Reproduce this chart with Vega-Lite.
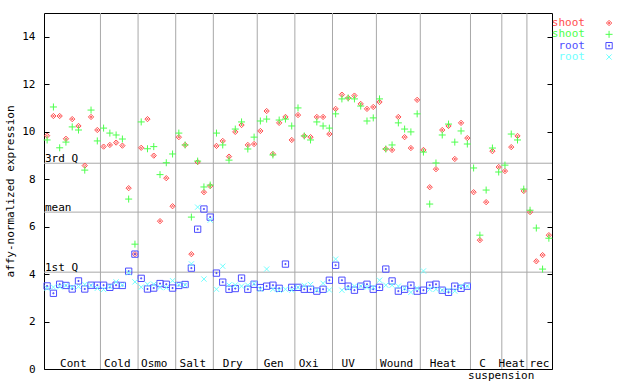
{
  "$schema": "https://vega.github.io/schema/vega-lite/v6.json",
  "width": 508,
  "height": 356,
  "autosize": {"type": "none"},
  "padding": {"left": 44, "top": 13, "right": 88, "bottom": 15},
  "background": "white",
  "config": {
    "view": {"stroke": "black", "strokeWidth": 1},
    "font": "DejaVu Sans Mono",
    "text": {"font": "DejaVu Sans Mono", "fontSize": 11, "color": "black"}
  },
  "datasets": {
    "bounds": [{"b": 8.5}, {"b": 14.5}, {"b": 20.5}, {"b": 26.5}, {"b": 33.5}, {"b": 39.5}, {"b": 45.5}, {"b": 52.5}, {"b": 59.5}, {"b": 67.5}, {"b": 72.5}, {"b": 76.5}],
    "quart": [{"q": "3rd Q", "v": 8.67}, {"q": "mean", "v": 6.61}, {"q": "1st Q", "v": 4.08}],
    "groups": [{"g": "Cont", "c": 4.17}, {"g": "Cold", "c": 11.19}, {"g": "Osmo", "c": 17.08}, {"g": "Salt", "c": 23.22}, {"g": "Dry", "c": 29.59}, {"g": "Gen", "c": 36.13}, {"g": "Oxi", "c": 41.7}, {"g": "UV", "c": 48.0}, {"g": "Wound", "c": 55.73}, {"g": "Heat", "c": 63.14}, {"g": "C", "c": 69.43}, {"g": "Heat", "c": 74.1}, {"g": "rec", "c": 78.5}],
    "sub": [{"g": "suspension", "c": 72.4}],
    "leg": [{"s": "shoot_r", "t": "shoot"}, {"s": "shoot_g", "t": "shoot"}, {"s": "root_b", "t": "root"}, {"s": "root_c", "t": "root"}],
    "pts": [
      {"i":0,"s":"shoot_r","v":9.83},{"i":1,"s":"shoot_r","v":10.66},{"i":2,"s":"shoot_r","v":10.66},{"i":3,"s":"shoot_r","v":9.70},{"i":4,"s":"shoot_r","v":10.53},{"i":5,"s":"shoot_r","v":10.24},{"i":6,"s":"shoot_r","v":8.57},{"i":7,"s":"shoot_r","v":10.62},{"i":8,"s":"shoot_r","v":10.07},
      {"i":9,"s":"shoot_r","v":9.37},{"i":10,"s":"shoot_r","v":9.44},{"i":11,"s":"shoot_r","v":9.54},{"i":12,"s":"shoot_r","v":9.41},{"i":13,"s":"shoot_r","v":7.62},{"i":14,"s":"shoot_r","v":4.84},
      {"i":15,"s":"shoot_r","v":9.32},{"i":16,"s":"shoot_r","v":10.53},{"i":17,"s":"shoot_r","v":8.99},{"i":18,"s":"shoot_r","v":6.23},{"i":19,"s":"shoot_r","v":8.04},{"i":20,"s":"shoot_r","v":6.86},
      {"i":21,"s":"shoot_r","v":9.77},{"i":22,"s":"shoot_r","v":9.44},{"i":23,"s":"shoot_r","v":4.84},{"i":24,"s":"shoot_r","v":8.72},{"i":25,"s":"shoot_r","v":7.45},{"i":26,"s":"shoot_r","v":7.71},
      {"i":27,"s":"shoot_r","v":9.40},{"i":28,"s":"shoot_r","v":9.61},{"i":29,"s":"shoot_r","v":8.95},{"i":30,"s":"shoot_r","v":9.99},{"i":31,"s":"shoot_r","v":10.28},{"i":32,"s":"shoot_r","v":9.44},{"i":33,"s":"shoot_r","v":9.48},
      {"i":34,"s":"shoot_r","v":10.03},{"i":35,"s":"shoot_r","v":10.87},{"i":36,"s":"shoot_r","v":9.06},{"i":37,"s":"shoot_r","v":10.37},{"i":38,"s":"shoot_r","v":10.62},{"i":39,"s":"shoot_r","v":9.65},
      {"i":40,"s":"shoot_r","v":10.70},{"i":41,"s":"shoot_r","v":9.82},{"i":42,"s":"shoot_r","v":9.77},{"i":43,"s":"shoot_r","v":10.62},{"i":44,"s":"shoot_r","v":10.62},{"i":45,"s":"shoot_r","v":9.90},
      {"i":46,"s":"shoot_r","v":10.96},{"i":47,"s":"shoot_r","v":11.56},{"i":48,"s":"shoot_r","v":11.42},{"i":49,"s":"shoot_r","v":11.52},{"i":50,"s":"shoot_r","v":11.17},{"i":51,"s":"shoot_r","v":10.96},{"i":52,"s":"shoot_r","v":11.04},
      {"i":53,"s":"shoot_r","v":11.25},{"i":54,"s":"shoot_r","v":9.27},{"i":55,"s":"shoot_r","v":9.23},{"i":56,"s":"shoot_r","v":10.62},{"i":57,"s":"shoot_r","v":9.77},{"i":58,"s":"shoot_r","v":9.31},{"i":59,"s":"shoot_r","v":11.34},
      {"i":60,"s":"shoot_r","v":9.23},{"i":61,"s":"shoot_r","v":7.66},{"i":62,"s":"shoot_r","v":8.42},{"i":63,"s":"shoot_r","v":10.07},{"i":64,"s":"shoot_r","v":10.24},{"i":65,"s":"shoot_r","v":8.85},{"i":66,"s":"shoot_r","v":10.37},{"i":67,"s":"shoot_r","v":9.73},
      {"i":68,"s":"shoot_r","v":7.45},{"i":69,"s":"shoot_r","v":5.43},{"i":70,"s":"shoot_r","v":7.03},{"i":71,"s":"shoot_r","v":9.18},{"i":72,"s":"shoot_r","v":8.51},
      {"i":73,"s":"shoot_r","v":8.34},{"i":74,"s":"shoot_r","v":9.35},{"i":75,"s":"shoot_r","v":9.82},{"i":76,"s":"shoot_r","v":7.50},
      {"i":77,"s":"shoot_r","v":6.61},{"i":78,"s":"shoot_r","v":4.54},{"i":79,"s":"shoot_r","v":4.80},{"i":80,"s":"shoot_r","v":5.64},

      {"i":0,"s":"shoot_g","v":9.65},{"i":1,"s":"shoot_g","v":11.04},{"i":2,"s":"shoot_g","v":9.32},{"i":3,"s":"shoot_g","v":9.56},{"i":4,"s":"shoot_g","v":10.20},{"i":5,"s":"shoot_g","v":10.07},{"i":6,"s":"shoot_g","v":8.38},{"i":7,"s":"shoot_g","v":10.91},{"i":8,"s":"shoot_g","v":9.61},
      {"i":9,"s":"shoot_g","v":10.15},{"i":10,"s":"shoot_g","v":9.94},{"i":11,"s":"shoot_g","v":9.86},{"i":12,"s":"shoot_g","v":9.69},{"i":13,"s":"shoot_g","v":7.16},{"i":14,"s":"shoot_g","v":5.26},
      {"i":15,"s":"shoot_g","v":10.41},{"i":16,"s":"shoot_g","v":9.28},{"i":17,"s":"shoot_g","v":9.37},{"i":18,"s":"shoot_g","v":8.19},{"i":19,"s":"shoot_g","v":8.69},{"i":20,"s":"shoot_g","v":9.06},
      {"i":21,"s":"shoot_g","v":9.94},{"i":22,"s":"shoot_g","v":9.44},{"i":23,"s":"shoot_g","v":6.40},{"i":24,"s":"shoot_g","v":8.76},{"i":25,"s":"shoot_g","v":7.67},{"i":26,"s":"shoot_g","v":7.75},
      {"i":27,"s":"shoot_g","v":9.94},{"i":28,"s":"shoot_g","v":9.44},{"i":29,"s":"shoot_g","v":8.80},{"i":30,"s":"shoot_g","v":10.11},{"i":31,"s":"shoot_g","v":10.41},{"i":32,"s":"shoot_g","v":9.27},{"i":33,"s":"shoot_g","v":9.77},
      {"i":34,"s":"shoot_g","v":10.45},{"i":35,"s":"shoot_g","v":10.53},{"i":36,"s":"shoot_g","v":9.02},{"i":37,"s":"shoot_g","v":10.49},{"i":38,"s":"shoot_g","v":10.53},{"i":39,"s":"shoot_g","v":10.24},
      {"i":40,"s":"shoot_g","v":11.00},{"i":41,"s":"shoot_g","v":9.82},{"i":42,"s":"shoot_g","v":9.65},{"i":43,"s":"shoot_g","v":10.41},{"i":44,"s":"shoot_g","v":10.24},{"i":45,"s":"shoot_g","v":10.15},
      {"i":46,"s":"shoot_g","v":10.75},{"i":47,"s":"shoot_g","v":11.38},{"i":48,"s":"shoot_g","v":11.42},{"i":49,"s":"shoot_g","v":11.38},{"i":50,"s":"shoot_g","v":11.08},{"i":51,"s":"shoot_g","v":10.45},{"i":52,"s":"shoot_g","v":10.58},
      {"i":53,"s":"shoot_g","v":11.38},{"i":54,"s":"shoot_g","v":9.27},{"i":55,"s":"shoot_g","v":9.44},{"i":56,"s":"shoot_g","v":10.37},{"i":57,"s":"shoot_g","v":10.11},{"i":58,"s":"shoot_g","v":9.99},{"i":59,"s":"shoot_g","v":10.75},
      {"i":60,"s":"shoot_g","v":9.14},{"i":61,"s":"shoot_g","v":6.95},{"i":62,"s":"shoot_g","v":8.68},{"i":63,"s":"shoot_g","v":9.86},{"i":64,"s":"shoot_g","v":10.32},{"i":65,"s":"shoot_g","v":9.56},{"i":66,"s":"shoot_g","v":10.03},{"i":67,"s":"shoot_g","v":9.48},
      {"i":68,"s":"shoot_g","v":8.47},{"i":69,"s":"shoot_g","v":5.64},{"i":70,"s":"shoot_g","v":7.54},{"i":71,"s":"shoot_g","v":9.31},{"i":72,"s":"shoot_g","v":8.30},
      {"i":73,"s":"shoot_g","v":8.59},{"i":74,"s":"shoot_g","v":9.90},{"i":75,"s":"shoot_g","v":9.65},{"i":76,"s":"shoot_g","v":7.58},
      {"i":77,"s":"shoot_g","v":6.69},{"i":78,"s":"shoot_g","v":5.94},{"i":79,"s":"shoot_g","v":4.21},{"i":80,"s":"shoot_g","v":5.51},

      {"i":0,"s":"root_b","v":3.50},{"i":1,"s":"root_b","v":3.19},{"i":2,"s":"root_b","v":3.57},{"i":3,"s":"root_b","v":3.52},{"i":4,"s":"root_b","v":3.37},{"i":5,"s":"root_b","v":3.71},{"i":6,"s":"root_b","v":3.37},{"i":7,"s":"root_b","v":3.53},{"i":8,"s":"root_b","v":3.53},
      {"i":9,"s":"root_b","v":3.53},{"i":10,"s":"root_b","v":3.44},{"i":11,"s":"root_b","v":3.53},{"i":12,"s":"root_b","v":3.52},{"i":13,"s":"root_b","v":4.12},{"i":14,"s":"root_b","v":4.84},
      {"i":15,"s":"root_b","v":3.82},{"i":16,"s":"root_b","v":3.37},{"i":17,"s":"root_b","v":3.41},{"i":18,"s":"root_b","v":3.60},{"i":19,"s":"root_b","v":3.57},{"i":20,"s":"root_b","v":3.41},
      {"i":21,"s":"root_b","v":3.52},{"i":22,"s":"root_b","v":3.56},{"i":23,"s":"root_b","v":4.25},{"i":24,"s":"root_b","v":5.89},{"i":25,"s":"root_b","v":6.74},{"i":26,"s":"root_b","v":6.40},
      {"i":27,"s":"root_b","v":4.04},{"i":28,"s":"root_b","v":3.66},{"i":29,"s":"root_b","v":3.36},{"i":30,"s":"root_b","v":3.39},{"i":31,"s":"root_b","v":3.83},{"i":32,"s":"root_b","v":3.36},{"i":33,"s":"root_b","v":3.57},
      {"i":34,"s":"root_b","v":3.43},{"i":35,"s":"root_b","v":3.49},{"i":36,"s":"root_b","v":3.53},{"i":37,"s":"root_b","v":3.40},{"i":38,"s":"root_b","v":4.42},{"i":39,"s":"root_b","v":3.44},
      {"i":40,"s":"root_b","v":3.44},{"i":41,"s":"root_b","v":3.36},{"i":42,"s":"root_b","v":3.36},{"i":43,"s":"root_b","v":3.28},{"i":44,"s":"root_b","v":3.36},{"i":45,"s":"root_b","v":3.74},
      {"i":46,"s":"root_b","v":4.37},{"i":47,"s":"root_b","v":3.74},{"i":48,"s":"root_b","v":3.49},{"i":49,"s":"root_b","v":3.32},{"i":50,"s":"root_b","v":3.49},{"i":51,"s":"root_b","v":3.57},{"i":52,"s":"root_b","v":3.36},
      {"i":53,"s":"root_b","v":3.44},{"i":54,"s":"root_b","v":4.21},{"i":55,"s":"root_b","v":3.71},{"i":56,"s":"root_b","v":3.28},{"i":57,"s":"root_b","v":3.36},{"i":58,"s":"root_b","v":3.53},{"i":59,"s":"root_b","v":3.28},
      {"i":60,"s":"root_b","v":3.32},{"i":61,"s":"root_b","v":3.53},{"i":62,"s":"root_b","v":3.57},{"i":63,"s":"root_b","v":3.32},{"i":64,"s":"root_b","v":3.23},{"i":65,"s":"root_b","v":3.49},{"i":66,"s":"root_b","v":3.40},{"i":67,"s":"root_b","v":3.49},

      {"i":0,"s":"root_c","v":3.40},{"i":1,"s":"root_c","v":3.45},{"i":2,"s":"root_c","v":3.46},{"i":3,"s":"root_c","v":3.52},{"i":4,"s":"root_c","v":3.45},{"i":5,"s":"root_c","v":3.47},{"i":6,"s":"root_c","v":3.56},{"i":7,"s":"root_c","v":3.52},{"i":8,"s":"root_c","v":3.40},
      {"i":9,"s":"root_c","v":3.35},{"i":10,"s":"root_c","v":3.48},{"i":11,"s":"root_c","v":3.67},{"i":12,"s":"root_c","v":3.54},{"i":13,"s":"root_c","v":4.05},{"i":14,"s":"root_c","v":3.67},
      {"i":15,"s":"root_c","v":3.45},{"i":16,"s":"root_c","v":3.57},{"i":17,"s":"root_c","v":3.57},{"i":18,"s":"root_c","v":3.44},{"i":19,"s":"root_c","v":3.43},{"i":20,"s":"root_c","v":3.72},
      {"i":21,"s":"root_c","v":3.55},{"i":22,"s":"root_c","v":3.54},{"i":23,"s":"root_c","v":4.43},{"i":24,"s":"root_c","v":6.82},{"i":25,"s":"root_c","v":3.79},{"i":26,"s":"root_c","v":6.27},
      {"i":27,"s":"root_c","v":3.36},{"i":28,"s":"root_c","v":4.33},{"i":29,"s":"root_c","v":3.54},{"i":30,"s":"root_c","v":3.54},{"i":31,"s":"root_c","v":3.49},{"i":32,"s":"root_c","v":3.53},{"i":33,"s":"root_c","v":3.60},
      {"i":34,"s":"root_c","v":3.36},{"i":35,"s":"root_c","v":4.21},{"i":36,"s":"root_c","v":3.36},{"i":37,"s":"root_c","v":3.32},{"i":38,"s":"root_c","v":3.36},{"i":39,"s":"root_c","v":3.32},
      {"i":40,"s":"root_c","v":3.44},{"i":41,"s":"root_c","v":3.52},{"i":42,"s":"root_c","v":3.56},{"i":43,"s":"root_c","v":3.32},{"i":44,"s":"root_c","v":3.61},{"i":45,"s":"root_c","v":3.33},
      {"i":46,"s":"root_c","v":4.63},{"i":47,"s":"root_c","v":3.32},{"i":48,"s":"root_c","v":3.40},{"i":49,"s":"root_c","v":3.49},{"i":50,"s":"root_c","v":3.49},{"i":51,"s":"root_c","v":3.44},{"i":52,"s":"root_c","v":3.44},
      {"i":53,"s":"root_c","v":3.74},{"i":54,"s":"root_c","v":3.53},{"i":55,"s":"root_c","v":3.53},{"i":56,"s":"root_c","v":3.49},{"i":57,"s":"root_c","v":3.40},{"i":58,"s":"root_c","v":3.23},{"i":59,"s":"root_c","v":3.40},
      {"i":60,"s":"root_c","v":4.13},{"i":61,"s":"root_c","v":3.36},{"i":62,"s":"root_c","v":3.36},{"i":63,"s":"root_c","v":3.32},{"i":64,"s":"root_c","v":3.32},{"i":65,"s":"root_c","v":3.28},{"i":66,"s":"root_c","v":3.49},{"i":67,"s":"root_c","v":3.49}
    ]
  },
  "layer": [
    {
      "data": {"name": "bounds"},
      "mark": {"type": "rule", "color": "#a8a8a8", "strokeWidth": 1},
      "encoding": {
        "x": {"field": "b", "type": "quantitative", "scale": {"domain": [-0.5, 80.5], "nice": false, "zero": false}, "axis": null}
      }
    },
    {
      "data": {"name": "quart"},
      "mark": {"type": "rule", "color": "#a8a8a8", "strokeWidth": 1},
      "encoding": {
        "y": {"field": "v", "type": "quantitative", "scale": {"domain": [0, 15], "nice": false},
          "axis": {"orient": "right", "values": [0, 2, 4, 6, 8, 10, 12, 14], "labels": false, "title": null, "domain": false, "grid": false, "ticks": true, "tickSize": -5, "tickColor": "black"}}
      }
    },
    {
      "data": {"name": "quart"},
      "mark": {"type": "text", "align": "left", "baseline": "alphabetic", "dx": 1, "dy": -1, "font": "DejaVu Sans Mono", "fontSize": 11, "color": "black"},
      "encoding": {
        "x": {"datum": -0.5, "type": "quantitative", "scale": {"domain": [-0.5, 80.5], "nice": false, "zero": false}, "axis": null},
        "y": {"field": "v", "type": "quantitative", "scale": {"domain": [0, 15], "nice": false}, "axis": null},
        "text": {"field": "q"}
      }
    },
    {
      "data": {"name": "pts"},
      "mark": {"type": "point", "filled": false, "size": 49, "strokeWidth": 1, "opacity": 1},
      "encoding": {
        "x": {"field": "i", "type": "quantitative", "scale": {"domain": [-0.5, 80.5], "nice": false, "zero": false}, "axis": null},
        "y": {"field": "v", "type": "quantitative", "scale": {"domain": [0, 15], "nice": false},
          "axis": {"orient": "left", "values": [0, 2, 4, 6, 8, 10, 12, 14], "title": "affy-normalized expression", "domain": false, "grid": false, "tickSize": -5, "tickColor": "black", "labelPadding": 14, "labelFont": "DejaVu Sans Mono", "labelFontSize": 11, "labelColor": "black", "titleFont": "DejaVu Sans Mono", "titleFontSize": 11, "titleFontWeight": "normal", "titleColor": "black", "titlePadding": 6}},
        "color": {"field": "s", "type": "nominal",
          "scale": {"domain": ["shoot_r", "shoot_g", "root_b", "root_c"], "range": ["#ff4d4d", "#4dff4d", "#4d4dff", "#70ffff"]},
          "legend": null},
        "shape": {"field": "s", "type": "nominal",
          "scale": {"domain": ["shoot_r", "shoot_g", "root_b", "root_c"], "range": [
            "M0,-0.75L0.75,0L0,0.75L-0.75,0ZM0,-0.25L0.25,0L0,0.25L-0.25,0Z",
            "M-1,0H1M0,-1V1",
            "M-0.9,-0.9H0.9V0.9H-0.9ZM-0.15,-0.15H0.15V0.15H-0.15Z",
            "M-0.75,-0.75L0.75,0.75M-0.75,0.75L0.75,-0.75"]},
          "legend": null}
      }
    },
    {
      "data": {"name": "leg"},
      "mark": {"type": "text", "align": "right", "baseline": "middle", "font": "DejaVu Sans Mono", "fontSize": 11},
      "encoding": {
        "x": {"datum": 85.76, "type": "quantitative", "scale": {"domain": [-0.5, 80.5], "nice": false, "zero": false}, "axis": null},
        "y": {"field": "s", "type": "nominal", "scale": {"type": "point", "domain": ["shoot_r", "shoot_g", "root_b", "root_c"], "range": [10, 44], "padding": 0}, "axis": null},
        "color": {"field": "s", "type": "nominal", "legend": null},
        "text": {"field": "t"}
      }
    },
    {
      "data": {"name": "leg"},
      "mark": {"type": "point", "filled": false, "size": 49, "strokeWidth": 1, "opacity": 1},
      "encoding": {
        "x": {"datum": 89.6, "type": "quantitative", "scale": {"domain": [-0.5, 80.5], "nice": false, "zero": false}, "axis": null},
        "y": {"field": "s", "type": "nominal", "scale": {"type": "point", "domain": ["shoot_r", "shoot_g", "root_b", "root_c"], "range": [10, 44], "padding": 0}, "axis": null},
        "color": {"field": "s", "type": "nominal", "legend": null},
        "shape": {"field": "s", "type": "nominal", "legend": null}
      }
    },
    {
      "data": {"name": "groups"},
      "mark": {"type": "text", "align": "center", "baseline": "alphabetic", "dy": -2, "font": "DejaVu Sans Mono", "fontSize": 11, "color": "black"},
      "encoding": {
        "x": {"field": "c", "type": "quantitative", "scale": {"domain": [-0.5, 80.5], "nice": false, "zero": false}, "axis": null},
        "y": {"datum": 0, "type": "quantitative", "scale": {"domain": [0, 15], "nice": false}, "axis": null},
        "text": {"field": "g"}
      }
    },
    {
      "data": {"name": "sub"},
      "mark": {"type": "text", "align": "center", "baseline": "alphabetic", "dy": 10, "font": "DejaVu Sans Mono", "fontSize": 11, "color": "black"},
      "encoding": {
        "x": {"field": "c", "type": "quantitative", "scale": {"domain": [-0.5, 80.5], "nice": false, "zero": false}, "axis": null},
        "y": {"datum": 0, "type": "quantitative", "scale": {"domain": [0, 15], "nice": false}, "axis": null},
        "text": {"field": "g"}
      }
    }
  ],
  "resolve": {"scale": {"y": "independent"}, "axis": {"y": "independent"}}
}
